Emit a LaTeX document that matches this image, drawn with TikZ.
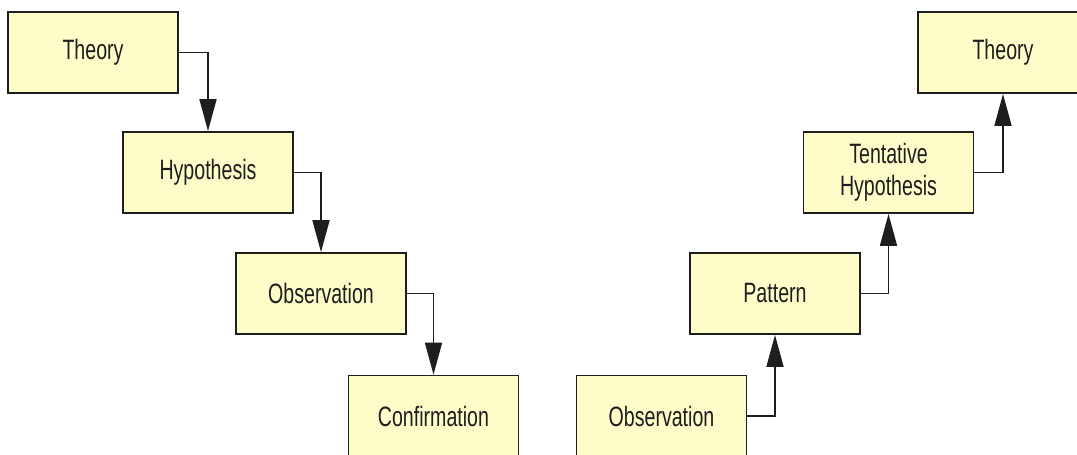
\documentclass[tikz,border=0pt]{standalone}
\usepackage{fontspec}
\newfontfamily\boxfont[FakeStretch=0.7]{Liberation Sans}
\usetikzlibrary{arrows.meta}
\definecolor{boxfill}{RGB}{254,253,202}
\definecolor{boxline}{RGB}{30,30,30}
\tikzset{
  stage/.style={draw=boxline, line width=1.8pt, fill=boxfill,
    minimum width=170pt, minimum height=81pt, inner sep=0pt,
    align=center, text=boxline,
    font=\boxfont\fontsize{28}{32}\selectfont},
  link/.style={draw=boxline, line width=1.6pt,
    -{Triangle[length=32pt,width=17pt]}}
}
\begin{document}
\begin{tikzpicture}[x=1pt,y=-1pt]
  \useasboundingbox (0,0) rectangle (1077,455);
  \fill[white] (0,0) rectangle (1077,455);
  \clip (0,0) rectangle (1077,455);

  % deductive chain (top left to bottom)
  \node[stage] (theoryA) at (93,52.5) {Theory};
  \node[stage] (hypA)    at (208,172.5) {Hypothesis};
  \node[stage] (obsA)    at (321,293.5) {Observation};
  \node[stage] (conf)    at (433.5,416) {Confirmation};

  % inductive chain (bottom up to top right)
  \node[stage] (obsB)    at (661.5,416) {Observation};
  \node[stage] (patt)    at (775,293.5) {Pattern};
  \node[stage] (hypB)    at (888.5,172.5) {Tentative\\Hypothesis};
  \node[stage] (theoryB) at (1003,52.5) {Theory};

  \draw[link] (theoryA.east) -| (hypA.north);
  \draw[link] (hypA.east) -| (obsA.north);
  \draw[link] (obsA.east) -| (conf.north);

  \draw[link] (obsB.east) -| (patt.south);
  \draw[link] (patt.east) -| (hypB.south);
  \draw[link] (hypB.east) -| (theoryB.south);
\end{tikzpicture}
\end{document}
